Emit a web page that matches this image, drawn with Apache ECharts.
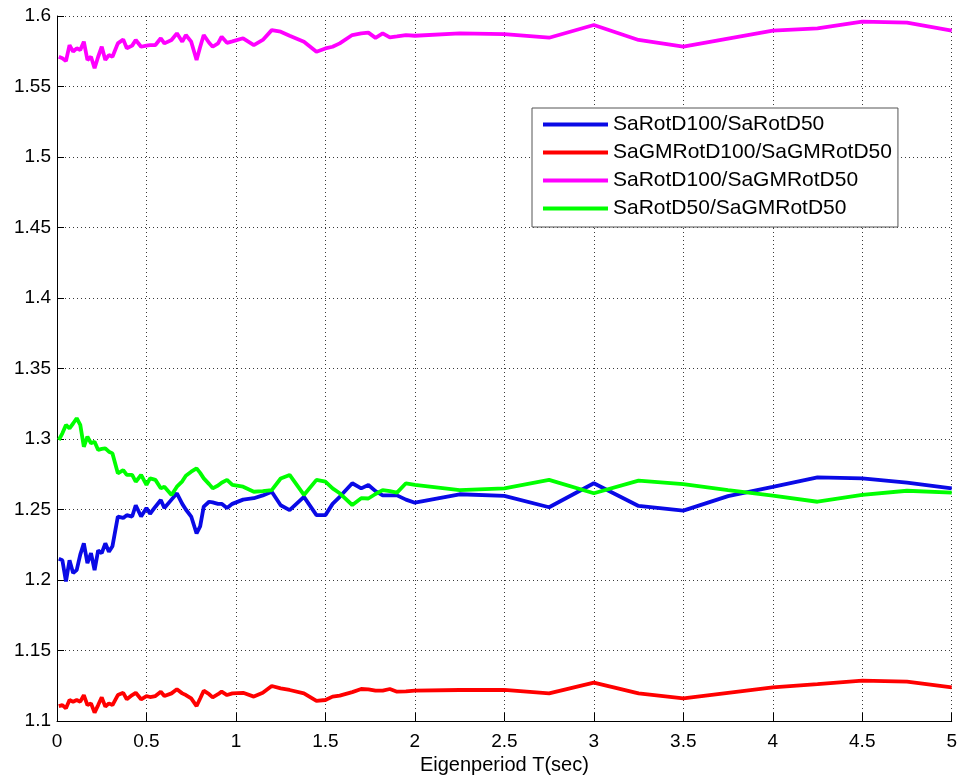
<!DOCTYPE html>
<html>
<head>
<meta charset="utf-8">
<script src="https://cdn.jsdelivr.net/npm/echarts@6/dist/echarts.min.js"></script>
<style>html,body{margin:0;padding:0;background:#fff;}#c{width:960px;height:782px;}</style>
</head>
<body>
<div id="c"></div>
<script>
const periods = [0.01,0.03,0.05,0.07,0.09,0.11,0.13,0.15,0.17,0.19,0.21,0.23,0.25,0.27,0.29,0.31,0.34,0.37,0.39,0.42,0.44,0.47,0.5,0.52,0.55,0.58,0.6,0.64,0.67,0.7,0.72,0.75,0.78,0.8,0.82,0.85,0.87,0.9,0.92,0.95,0.98,1.04,1.1,1.15,1.2,1.25,1.3,1.38,1.45,1.5,1.54,1.58,1.65,1.7,1.74,1.78,1.82,1.86,1.9,1.95,2.0,2.25,2.5,2.75,3.0,3.25,3.5,3.75,4.0,4.25,4.5,4.75,5.0];

const rotD100_rotD50 = [1.215,1.214,1.199,1.214,1.205,1.207,1.218,1.226,1.212,1.219,1.207,1.221,1.219,1.226,1.220,1.224,1.245,1.244,1.246,1.245,1.253,1.245,1.251,1.247,1.252,1.2567,1.251,1.257,1.2615,1.254,1.250,1.245,1.233,1.238,1.252,1.2555,1.255,1.254,1.254,1.251,1.254,1.257,1.258,1.260,1.2626,1.253,1.2496,1.259,1.246,1.246,1.254,1.259,1.2686,1.265,1.2674,1.263,1.260,1.260,1.260,1.257,1.2548,1.2608,1.2596,1.2516,1.2686,1.2525,1.2492,1.2595,1.266,1.2728,1.2721,1.269,1.265];

const gmRotD100_gmRotD50 = [1.1106,1.1113,1.109,1.1149,1.1137,1.1149,1.1137,1.1184,1.1113,1.1125,1.1059,1.1113,1.1168,1.1102,1.1125,1.1113,1.1184,1.12,1.1154,1.1184,1.12,1.1154,1.1177,1.117,1.1177,1.1208,1.1177,1.1196,1.1225,1.1196,1.1184,1.116,1.1106,1.116,1.1215,1.119,1.1168,1.119,1.1208,1.1184,1.1196,1.12,1.1173,1.12,1.1248,1.1232,1.122,1.1196,1.1142,1.1149,1.1173,1.118,1.1205,1.1227,1.1225,1.1215,1.1215,1.1227,1.1208,1.121,1.1215,1.122,1.122,1.1196,1.1272,1.1196,1.1161,1.12,1.1239,1.1262,1.1286,1.1279,1.1239];

const rotD100_gmRotD50 = [1.5711,1.570,1.568,1.5794,1.5747,1.5771,1.5759,1.5818,1.5688,1.5711,1.5629,1.5711,1.5782,1.5688,1.5723,1.5711,1.5806,1.5834,1.5771,1.579,1.583,1.5782,1.579,1.5794,1.5794,1.5842,1.5806,1.583,1.5877,1.5818,1.5865,1.5818,1.5688,1.578,1.5865,1.581,1.5782,1.5806,1.5853,1.581,1.582,1.5842,1.5794,1.583,1.590,1.5889,1.586,1.5818,1.5747,1.577,1.5782,1.5806,1.5865,1.5877,1.5882,1.5845,1.5877,1.5848,1.5855,1.5865,1.586,1.5877,1.5872,1.5846,1.5936,1.583,1.5782,1.584,1.5896,1.5912,1.596,1.5953,1.5896];

const rotD50_gmRotD50 = [1.2993,1.304,1.310,1.3076,1.311,1.3147,1.310,1.2945,1.3017,1.297,1.298,1.2922,1.293,1.2934,1.291,1.2898,1.2757,1.278,1.2745,1.2745,1.2697,1.2745,1.2674,1.2721,1.271,1.265,1.2662,1.2603,1.2662,1.270,1.274,1.2768,1.2792,1.276,1.2721,1.268,1.265,1.267,1.269,1.271,1.2674,1.2662,1.2626,1.263,1.2638,1.272,1.2745,1.2603,1.271,1.2697,1.265,1.2615,1.2532,1.258,1.2578,1.261,1.2638,1.263,1.262,1.2686,1.2675,1.2638,1.265,1.271,1.2615,1.2705,1.268,1.2638,1.2598,1.2555,1.2603,1.2633,1.262];

const seriesNames = ['SaRotD100/SaRotD50','SaGMRotD100/SaGMRotD50','SaRotD100/SaGMRotD50','SaRotD50/SaGMRotD50'];
const seriesColors = ['#0a0ae6','#ff0000','#ff00ff','#00ff00'];
const seriesValues = [rotD100_rotD50, gmRotD100_gmRotD50, rotD100_gmRotD50, rotD50_gmRotD50];
const xAxisTitle = 'Eigenperiod T(sec)';

const FONT = "'Liberation Sans', Arial, sans-serif";
const chart = echarts.init(document.getElementById('c'), null, {renderer: 'canvas'});
const gridLine = {show: true, lineStyle: {color: '#3a3a3a', type: [1, 3], width: 1}};

chart.setOption({
  animation: false,
  backgroundColor: '#fff',
  grid: {left: 57, right: 8, top: 16, bottom: 61, containLabel: false},
  legend: {
    orient: 'vertical', left: 532, top: 108,
    backgroundColor: '#fff', borderColor: '#555', borderWidth: 1,
    padding: [6, 6, 8, 11], itemGap: 7,
    itemWidth: 65, itemHeight: 4, icon: 'rect',
    textStyle: {fontFamily: FONT, fontSize: 21, lineHeight: 21, color: '#000'},
    data: seriesNames
  },
  xAxis: {
    type: 'value', min: 0, max: 5, interval: 0.5,
    name: xAxisTitle, nameLocation: 'middle', nameGap: 34,
    nameTextStyle: {fontFamily: FONT, fontSize: 20, color: '#000'},
    axisLine: {show: true, onZero: false, lineStyle: {color: '#000', width: 1}},
    axisTick: {show: true, inside: true, length: 8, lineStyle: {color: '#000'}},
    axisLabel: {fontFamily: FONT, fontSize: 19, color: '#000', margin: 11,
      formatter: v => String(+v.toFixed(2))},
    splitLine: gridLine
  },
  yAxis: {
    type: 'value', min: 1.1, max: 1.6, interval: 0.05,
    axisLine: {show: true, onZero: false, lineStyle: {color: '#000', width: 1}},
    axisTick: {show: true, inside: true, length: 7, lineStyle: {color: '#000'}},
    axisLabel: {fontFamily: FONT, fontSize: 19, color: '#000', margin: 6,
      formatter: v => String(+v.toFixed(2))},
    splitLine: gridLine
  },
  series: seriesNames.map((name, i) => ({
    name: name, type: 'line', showSymbol: false, symbol: 'none',
    color: seriesColors[i],
    lineStyle: {color: seriesColors[i], width: 3.8},
    data: periods.map((t, k) => [t, seriesValues[i][k]]),
    z: 2 + i
  }))
});
</script>
</body>
</html>
